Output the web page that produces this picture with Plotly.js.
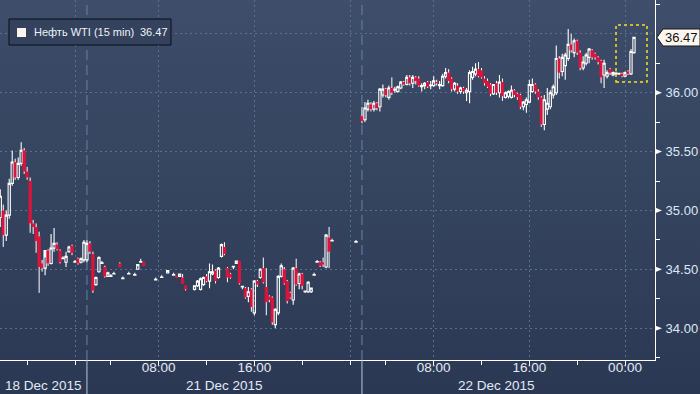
<!DOCTYPE html>
<html>
<head>
<meta charset="utf-8">
<script src="https://cdn.plot.ly/plotly-3.0.1.min.js"></script>
<style>
html,body{margin:0;padding:0;}
#chart{width:700px;height:394px;background:linear-gradient(to bottom,#3f4e6b 0%,#3a4965 14%,#364560 40%,#313f5b 70%,#2b3854 100%);}
</style>
</head>
<body>
<div id="chart"></div>
<script>
// ---- 15-min bars, 18 Dec session ----
const t18 = ['2015-12-18 17:45','2015-12-18 18:00','2015-12-18 18:15','2015-12-18 18:30','2015-12-18 18:45','2015-12-18 19:00','2015-12-18 19:15','2015-12-18 19:30','2015-12-18 19:45','2015-12-18 20:00','2015-12-18 20:15','2015-12-18 20:30','2015-12-18 20:45','2015-12-18 21:00','2015-12-18 21:15','2015-12-18 21:30','2015-12-18 21:45','2015-12-18 22:00','2015-12-18 22:15','2015-12-18 22:30','2015-12-18 22:45','2015-12-18 23:00','2015-12-18 23:15','2015-12-18 23:30','2015-12-18 23:45','2015-12-19 00:00','2015-12-19 00:15','2015-12-19 00:30','2015-12-19 00:45'];
const o18 = [34.94,35.00,34.79,34.96,35.23,35.41,35.28,35.40,35.51,35.33,35.25,34.89,34.86,34.78,34.55,34.51,34.66,34.55,34.68,34.71,34.66,34.59,34.56,34.65,34.70,34.56,34.59,34.56,34.58];
const h18 = [35.18,35.05,35.00,35.27,35.51,35.44,35.45,35.58,35.53,35.37,35.28,34.92,34.89,34.82,34.58,34.60,34.67,34.80,34.85,34.73,34.67,34.61,34.65,34.70,34.71,34.58,34.60,34.60,34.75];
const l18 = [34.86,34.69,34.74,34.93,35.21,35.26,35.26,35.38,35.31,35.26,34.81,34.80,34.64,34.30,34.48,34.45,34.53,34.54,34.65,34.66,34.55,34.59,34.52,34.64,34.62,34.56,34.54,34.55,34.56];
const c18 = [35.12,34.79,34.96,35.23,35.41,35.28,35.40,35.51,35.33,35.28,34.89,34.86,34.74,34.52,34.51,34.66,34.55,34.68,34.72,34.67,34.56,34.595,34.61,34.69,34.64,34.565,34.55,34.59,34.73];

// ---- 21 Dec session (sparse overnight trading) ----
const t21 = ['2015-12-21 02:00','2015-12-21 02:15','2015-12-21 02:30','2015-12-21 02:45','2015-12-21 03:00','2015-12-21 03:15','2015-12-21 03:30','2015-12-21 03:45','2015-12-21 04:00','2015-12-21 04:15','2015-12-21 04:45','2015-12-21 05:00','2015-12-21 05:30','2015-12-21 06:00','2015-12-21 06:15','2015-12-21 06:30','2015-12-21 06:45','2015-12-21 07:45','2015-12-21 08:15','2015-12-21 08:45','2015-12-21 09:15','2015-12-21 09:30','2015-12-21 09:45','2015-12-21 10:00','2015-12-21 10:15','2015-12-21 11:00','2015-12-21 11:15','2015-12-21 11:30','2015-12-21 11:45','2015-12-21 12:00','2015-12-21 12:15','2015-12-21 12:30','2015-12-21 12:45','2015-12-21 13:00','2015-12-21 13:15','2015-12-21 13:30','2015-12-21 13:45','2015-12-21 14:00','2015-12-21 14:15','2015-12-21 14:30','2015-12-21 14:45','2015-12-21 15:00','2015-12-21 15:15','2015-12-21 15:30','2015-12-21 15:45','2015-12-21 16:00','2015-12-21 16:15','2015-12-21 16:30','2015-12-21 16:45','2015-12-21 17:00','2015-12-21 17:15','2015-12-21 17:30','2015-12-21 17:45','2015-12-21 18:00','2015-12-21 18:15','2015-12-21 18:30','2015-12-21 18:45','2015-12-21 19:00','2015-12-21 19:15','2015-12-21 19:30','2015-12-21 19:45','2015-12-21 20:00','2015-12-21 20:15','2015-12-21 20:30','2015-12-21 20:45','2015-12-21 21:00','2015-12-21 21:15','2015-12-21 21:30','2015-12-21 21:45','2015-12-21 22:00','2015-12-21 22:15','2015-12-21 22:30','2015-12-22 00:30'];
const o21 = [34.58,34.72,34.63,34.37,34.48,34.55,34.52,34.44,34.44,34.46,34.55,34.42,34.46,34.45,34.50,34.56,34.56,34.41,34.43,34.47,34.45,34.44,34.44,34.43,34.36,34.33,34.36,34.33,34.37,34.44,34.40,34.46,34.49,34.43,34.61,34.69,34.51,34.46,34.52,34.55,34.57,34.35,34.34,34.27,34.33,34.13,34.40,34.43,34.51,34.35,34.27,34.26,34.03,34.13,34.44,34.50,34.40,34.30,34.24,34.51,34.38,34.46,34.31,34.31,34.31,34.45,34.56,34.56,34.56,34.52,34.77,34.74,34.73];
const h21 = [34.75,34.74,34.65,34.44,34.61,34.57,34.53,34.48,34.46,34.48,34.56,34.44,34.48,34.47,34.54,34.59,34.56,34.43,34.45,34.49,34.47,34.44,34.46,34.46,34.36,34.36,34.41,34.43,34.44,34.46,34.55,34.54,34.50,34.52,34.72,34.73,34.52,34.47,34.53,34.57,34.57,34.36,34.35,34.35,34.34,34.41,34.41,34.51,34.60,34.51,34.28,34.27,34.17,34.45,34.55,34.52,34.41,34.31,34.52,34.59,34.47,34.47,34.32,34.40,34.34,34.47,34.58,34.57,34.60,34.80,34.86,34.76,34.75];
const l21 = [34.56,34.63,34.30,34.36,34.47,34.55,34.43,34.44,34.44,34.46,34.52,34.42,34.46,34.45,34.50,34.56,34.53,34.41,34.43,34.47,34.45,34.43,34.44,34.38,34.32,34.32,34.35,34.32,34.36,34.39,34.34,34.45,34.38,34.42,34.60,34.62,34.39,34.42,34.50,34.55,34.37,34.33,34.25,34.22,34.14,34.11,34.35,34.42,34.38,34.11,34.22,34.03,34.00,34.11,34.43,34.37,34.21,34.25,34.20,34.36,34.33,34.33,34.30,34.30,34.30,34.45,34.56,34.52,34.52,34.51,34.51,34.74,34.73];
const c21 = [34.72,34.65,34.32,34.43,34.60,34.555,34.44,34.47,34.445,34.465,34.52,34.425,34.465,34.455,34.54,34.565,34.53,34.415,34.435,34.49,34.455,34.43,34.46,34.38,34.33,34.36,34.40,34.42,34.43,34.40,34.48,34.48,34.40,34.51,34.71,34.63,34.43,34.43,34.525,34.57,34.38,34.355,34.26,34.31,34.18,34.40,34.37,34.50,34.39,34.22,34.24,34.05,34.16,34.44,34.53,34.38,34.23,34.26,34.51,34.37,34.46,34.36,34.315,34.39,34.34,34.455,34.565,34.53,34.54,34.79,34.65,34.745,34.735];

// ---- 22 Dec session (to 23 Dec 00:45) ----
const t22 = ['2015-12-22 02:00','2015-12-22 02:15','2015-12-22 02:30','2015-12-22 02:45','2015-12-22 03:00','2015-12-22 03:15','2015-12-22 03:30','2015-12-22 03:45','2015-12-22 04:00','2015-12-22 04:15','2015-12-22 04:30','2015-12-22 04:45','2015-12-22 05:00','2015-12-22 05:15','2015-12-22 05:30','2015-12-22 05:45','2015-12-22 06:00','2015-12-22 06:15','2015-12-22 06:30','2015-12-22 06:45','2015-12-22 07:00','2015-12-22 07:15','2015-12-22 07:30','2015-12-22 07:45','2015-12-22 08:00','2015-12-22 08:15','2015-12-22 08:30','2015-12-22 08:45','2015-12-22 09:00','2015-12-22 09:15','2015-12-22 09:30','2015-12-22 09:45','2015-12-22 10:00','2015-12-22 10:15','2015-12-22 10:30','2015-12-22 10:45','2015-12-22 11:00','2015-12-22 11:15','2015-12-22 11:30','2015-12-22 11:45','2015-12-22 12:00','2015-12-22 12:15','2015-12-22 12:30','2015-12-22 12:45','2015-12-22 13:00','2015-12-22 13:15','2015-12-22 13:30','2015-12-22 13:45','2015-12-22 14:00','2015-12-22 14:15','2015-12-22 14:30','2015-12-22 14:45','2015-12-22 15:00','2015-12-22 15:15','2015-12-22 15:30','2015-12-22 15:45','2015-12-22 16:00','2015-12-22 16:15','2015-12-22 16:30','2015-12-22 16:45','2015-12-22 17:00','2015-12-22 17:15','2015-12-22 17:30','2015-12-22 17:45','2015-12-22 18:00','2015-12-22 18:15','2015-12-22 18:30','2015-12-22 18:45','2015-12-22 19:00','2015-12-22 19:15','2015-12-22 19:30','2015-12-22 19:45','2015-12-22 20:00','2015-12-22 20:15','2015-12-22 20:30','2015-12-22 20:45','2015-12-22 21:00','2015-12-22 21:15','2015-12-22 21:30','2015-12-22 21:45','2015-12-22 22:00','2015-12-22 22:15','2015-12-22 22:30','2015-12-22 22:45','2015-12-22 23:00','2015-12-22 23:15','2015-12-22 23:30','2015-12-22 23:45','2015-12-23 00:00','2015-12-23 00:15','2015-12-23 00:30','2015-12-23 00:45'];
const o22 = [35.80,35.77,35.86,35.90,35.86,35.91,35.88,35.98,36.03,35.96,36.04,36.02,36.01,36.04,36.09,36.07,36.13,36.08,36.13,36.12,36.05,36.06,36.09,36.06,36.06,36.09,36.06,36.06,36.14,36.17,36.12,36.03,36.06,36.01,36.04,36.00,36.01,36.13,36.16,36.20,36.19,36.12,36.10,36.07,35.99,36.08,36.00,36.09,35.96,35.97,35.96,36.02,35.99,35.98,35.88,35.90,35.92,36.01,36.07,36.01,35.96,35.73,35.86,35.88,35.98,36.00,36.29,36.18,36.23,36.29,36.41,36.34,36.44,36.34,36.21,36.25,36.30,36.36,36.33,36.30,36.27,36.15,36.14,36.20,36.15,36.16,36.16,36.16,36.14,36.18,36.16,36.34];
const h22 = [35.88,35.92,35.94,35.92,35.93,35.92,36.04,36.07,36.04,36.06,36.13,36.05,36.06,36.10,36.10,36.15,36.15,36.15,36.14,36.14,36.08,36.09,36.10,36.10,36.14,36.11,36.10,36.16,36.21,36.20,36.13,36.09,36.08,36.05,36.05,36.04,36.19,36.22,36.25,36.26,36.21,36.14,36.12,36.08,36.07,36.10,36.15,36.12,36.01,36.02,36.06,36.03,36.00,35.99,35.93,35.96,36.11,36.12,36.08,36.03,35.97,35.98,36.04,36.02,36.07,36.40,36.31,36.33,36.34,36.54,36.50,36.46,36.45,36.36,36.31,36.34,36.38,36.37,36.34,36.31,36.28,36.28,36.19,36.21,36.18,36.18,36.17,36.17,36.18,36.19,36.37,36.47];
const l22 = [35.74,35.75,35.84,35.84,35.84,35.85,35.84,35.96,35.96,35.94,35.98,36.00,36.00,36.03,36.06,36.06,36.06,36.04,36.07,36.05,36.01,36.03,36.04,36.03,36.05,36.06,36.03,36.05,36.12,36.08,36.01,36.01,35.99,35.99,35.99,35.93,35.91,36.11,36.14,36.13,36.12,36.06,36.04,35.97,35.98,35.98,35.96,35.93,35.95,35.95,35.95,35.96,35.94,35.86,35.85,35.83,35.91,36.00,35.99,35.94,35.71,35.68,35.81,35.86,35.95,35.98,36.12,36.14,36.11,36.27,36.34,36.30,36.32,36.19,36.19,36.23,36.25,36.28,36.28,36.24,36.08,36.04,36.12,36.15,36.14,36.15,36.15,36.13,36.13,36.15,36.15,36.33];
const c22 = [35.76,35.87,35.91,35.86,35.91,35.87,36.03,36.03,35.98,36.04,36.00,36.03,36.05,36.09,36.07,36.13,36.08,36.13,36.10,36.06,36.06,36.08,36.05,36.065,36.10,36.08,36.07,36.14,36.17,36.10,36.03,36.08,36.01,36.04,36.01,36.02,36.17,36.18,36.20,36.14,36.13,36.08,36.05,35.99,36.07,36.00,36.09,35.97,36.00,36.01,36.02,35.98,35.96,35.88,35.92,35.94,36.07,36.07,36.01,35.96,35.73,35.94,35.91,36.00,36.05,36.29,36.17,36.30,36.32,36.41,36.36,36.44,36.34,36.21,36.26,36.32,36.37,36.30,36.30,36.26,36.13,36.25,36.17,36.17,36.17,36.165,36.165,36.14,36.17,36.16,36.35,36.47];

// ---- axis ticks / labels ----
const gridTimes = ['2015-12-19 00:00','2015-12-21 08:00','2015-12-21 16:00','2015-12-22 00:00','2015-12-22 08:00','2015-12-22 16:00','2015-12-23 00:00'];
const gridLabels = ['','08:00','16:00','','08:00','16:00','00:00'];
const minorTimes = ['2015-12-18 20:00','2015-12-21 04:00','2015-12-21 12:00','2015-12-21 20:00','2015-12-22 04:00','2015-12-22 12:00','2015-12-22 20:00'];
const sessionStarts = ['2015-12-21 02:00','2015-12-22 02:00'];
const dayLabels = ['18 Dec 2015','21 Dec 2015','22 Dec 2015'];
const dayLabelPos = [43, 224, 497];
const priceTicks = [34.0, 34.5, 35.0, 35.5, 36.0];
const priceMinor = [33.75, 34.25, 34.75, 35.25, 35.75, 36.25, 36.75];
const seriesName = 'Нефть WTI (15 min)';
const lastPrice = 36.47;

const W = 655, H = 360; // plot area in px
const px = v => v / W, py = v => 1 - v / H;

const axFont = "'Liberation Sans Narrow','Arial Narrow','Liberation Sans',Arial,sans-serif";
const gridCol = '#56728f';

// full bar table built from the arrays above
const X = t18.concat(t21, t22);
const O = o18.concat(o21, o22);
const Hi = h18.concat(h21, h22);
const Lo = l18.concat(l21, l22);
const C = c18.concat(c21, c22);
const down = C.map((c, i) => c < O[i]);
const idx = X.map((_, i) => i).filter(i => down[i]);

// white wicks of falling bars: upper part (open->high) and lower part (low->close), drawn as ohlc stems
const wicks = {
  type: 'ohlc',
  x: idx.map(i => X[i]).concat(idx.map(i => X[i])),
  open: idx.map(i => O[i]).concat(idx.map(i => C[i])),
  close: idx.map(i => O[i]).concat(idx.map(i => C[i])),
  high: idx.map(i => Hi[i]).concat(idx.map(i => C[i])),
  low: idx.map(i => O[i]).concat(idx.map(i => Lo[i])),
  tickwidth: 0,
  increasing: {line: {color: '#ffffff', width: 1}},
  decreasing: {line: {color: '#ffffff', width: 1}},
  hoverinfo: 'skip', showlegend: false
};
// candle bodies (rising: hollow white with wicks; falling: red body only)
const candles = {
  type: 'candlestick',
  x: X, open: O, close: C,
  high: Hi.map((h, i) => down[i] ? O[i] : h),
  low: Lo.map((l, i) => down[i] ? C[i] : l),
  increasing: {line: {color: '#ffffff', width: 1.1}, fillcolor: 'rgba(0,0,0,0)'},
  decreasing: {line: {color: '#dc143c', width: 1}, fillcolor: '#dc143c'},
  whiskerwidth: 0,
  hoverinfo: 'skip', showlegend: false
};

const shapes = [];
sessionStarts.forEach(d => {
  shapes.push({type: 'line', xref: 'x', yref: 'paper', x0: d, x1: d, y0: 0, y1: 1,
    line: {color: '#6585a5', width: 1, dash: '10px,5px'}, layer: 'below'});
  shapes.push({type: 'line', xref: 'x', yref: 'paper', x0: d, x1: d, y0: -34 / H, y1: 0,
    line: {color: '#b9c7d8', width: 1}});
});
priceTicks.forEach(v => {
  shapes.push({type: 'path', xref: 'paper', yref: 'y',
    path: `M1,${v + 0.024} L${1 + 7 / W},${v} L1,${v - 0.024} Z`,
    fillcolor: '#ffffff', line: {width: 0}});
});
// legend box
shapes.push({type: 'rect', xref: 'paper', yref: 'paper', x0: px(9), x1: px(171), y0: py(45), y1: py(19),
  fillcolor: '#34425d', line: {color: '#0b0f16', width: 1}});
shapes.push({type: 'rect', xref: 'paper', yref: 'paper', x0: px(17), x1: px(26), y0: py(37), y1: py(28),
  fillcolor: '#fff4ef', line: {width: 0}});
// highlight box around latest bars
shapes.push({type: 'rect', xref: 'paper', yref: 'paper', x0: px(616), x1: px(647), y0: py(82), y1: py(25),
  fillcolor: 'rgba(0,0,0,0)', line: {color: '#f3e21c', width: 1.5, dash: 'dot'}});
// last price tag
shapes.push({type: 'path', xref: 'paper', yref: 'paper',
  path: `M${px(657)},${py(37.5)} L${px(663)},${py(29)} L${px(700)},${py(29)} L${px(700)},${py(46)} L${px(663)},${py(46)} Z`,
  fillcolor: '#fff7f0', line: {color: '#1a1a1a', width: 1}});

const annotations = [
  {xref: 'paper', yref: 'paper', x: px(32), y: py(32), xanchor: 'left', yanchor: 'middle', showarrow: false,
   text: seriesName, font: {family: 'Liberation Sans, Arial, sans-serif', size: 11, color: '#eef3fa'}},
  {xref: 'paper', yref: 'paper', x: px(138), y: py(32), xanchor: 'left', yanchor: 'middle', showarrow: false,
   text: lastPrice.toFixed(2), font: {family: 'Liberation Sans, Arial, sans-serif', size: 11, color: '#eef3fa'}},
  {xref: 'paper', yref: 'y', x: px(681), y: lastPrice, xanchor: 'center', yanchor: 'middle', showarrow: false,
   text: lastPrice.toFixed(2), font: {family: 'Liberation Sans, Arial, sans-serif', size: 13, color: '#111111'}}
];
dayLabels.forEach((d, i) => {
  annotations.push({xref: 'paper', yref: 'paper', x: px(dayLabelPos[i]), y: -25 / H, xanchor: 'center', yanchor: 'middle',
    showarrow: false, text: d, font: {family: axFont, size: 13.5, color: '#e3eaf4'}});
});

const layout = {
  width: 700, height: 394,
  margin: {l: 0, r: 45, t: 0, b: 34, pad: 0},
  paper_bgcolor: 'rgba(0,0,0,0)', plot_bgcolor: 'rgba(0,0,0,0)',
  showlegend: false,
  boxgap: 0.25, boxgroupgap: 0,
  font: {family: 'Liberation Sans, Arial, sans-serif', color: '#e3eaf4'},
  xaxis: {
    type: 'date',
    range: ['2015-12-18 17:43:40', '2015-12-23 03:30:30'],
    rangebreaks: [
      {bounds: ['2015-12-19 01:00', '2015-12-21 02:00']},
      {bounds: ['2015-12-22 01:00', '2015-12-22 02:00']},
      {bounds: ['2015-12-23 01:00', '2015-12-23 02:00']}
    ],
    rangeslider: {visible: false},
    tickmode: 'array', tickvals: gridTimes, ticktext: gridLabels,
    ticks: 'outside', ticklen: 4, tickwidth: 1, tickcolor: '#ffffff',
    ticklabelstandoff: -9,
    showgrid: true, gridcolor: gridCol, gridwidth: 1, griddash: '2px,3px',
    minor: {tickmode: 'array', tickvals: minorTimes, ticks: 'outside', ticklen: 4, tickwidth: 1, tickcolor: '#ffffff', showgrid: false},
    showline: true, linecolor: '#ffffff', linewidth: 1,
    zeroline: false,
    tickfont: {family: axFont, size: 13.5, color: '#e3eaf4'},
    fixedrange: true
  },
  yaxis: {
    side: 'right',
    range: [33.73, 36.787],
    tickmode: 'array', tickvals: priceTicks.concat([36.5]), ticktext: priceTicks.map(v => v.toFixed(2)).concat(['']),
    ticks: 'outside', ticklen: 7, tickcolor: 'rgba(0,0,0,0)',
    minor: {tickmode: 'array', tickvals: priceMinor, ticks: 'outside', ticklen: 4, tickwidth: 1, tickcolor: '#ffffff', showgrid: false},
    showgrid: true, gridcolor: gridCol, gridwidth: 1, griddash: '2px,3px',
    showline: true, linecolor: '#ffffff', linewidth: 1,
    zeroline: false,
    tickfont: {family: 'Liberation Sans, Arial, sans-serif', size: 13, color: '#dde8f5'},
    fixedrange: true
  },
  shapes: shapes,
  annotations: annotations
};

Plotly.newPlot('chart', [wicks, candles], layout, {staticPlot: true, displayModeBar: false});
</script>
</body>
</html>
